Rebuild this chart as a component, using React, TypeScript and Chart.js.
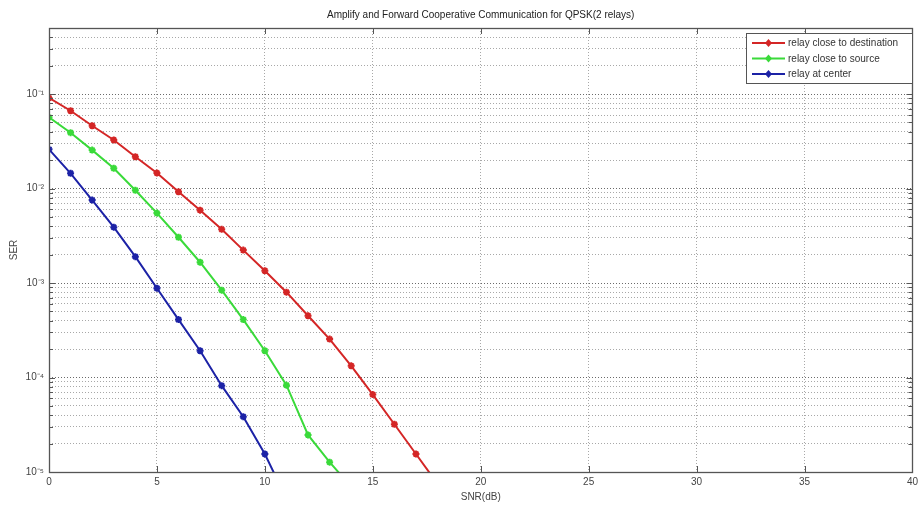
import React, { useEffect, useRef } from "react";
import { Chart, registerables } from "chart.js";

Chart.register(...registerables);

const snrDest = [0, 1, 2, 3, 4, 5, 6, 7, 8, 9, 10, 11, 12, 13, 14, 15, 16, 17, 18];
const serDest = [0.091, 0.0666, 0.0462, 0.0326, 0.0217, 0.0146, 0.00925, 0.0059, 0.0037, 0.00223, 0.00135, 0.0008, 0.00045, 0.000255, 0.000133, 0.000066, 0.000032, 0.0000155, 0.0000075];

const snrSource = [0, 1, 2, 3, 4, 5, 6, 7, 8, 9, 10, 11, 12, 13, 14];
const serSource = [0.0567, 0.039, 0.0255, 0.0164, 0.0096, 0.0055, 0.00305, 0.00166, 0.00084, 0.00041, 0.000192, 0.000083, 0.0000247, 0.0000127, 0.000007];

const snrCenter = [0, 1, 2, 3, 4, 5, 6, 7, 8, 9, 10, 11];
const serCenter = [0.026, 0.0145, 0.00755, 0.0039, 0.0019, 0.00088, 0.00041, 0.000192, 0.000082, 0.0000385, 0.0000155, 0.0000052];

const seriesNames = ["relay close to destination", "relay close to source", "relay at center"];
const seriesColors = ["#d42626", "#3ada3a", "#1c22a6"];

const xTicks = [0, 5, 10, 15, 20, 25, 30, 35, 40];
const yMin = 1e-5;
const yMax = 0.5;

const titleText = "Amplify and Forward Cooperative Communication for QPSK(2 relays)";
const xLabel = "SNR(dB)";
const yLabel = "SER";

const SUP: Record<string, string> = { "-": "\u207B", "0": "\u2070", "1": "\u00B9", "2": "\u00B2", "3": "\u00B3", "4": "\u2074", "5": "\u2075", "6": "\u2076", "7": "\u2077", "8": "\u2078", "9": "\u2079" };

function buildLogTicks(min: number, max: number) {
  const out: number[] = [];
  for (let e = -6; e <= 1; e++) {
    for (let m = 1; m <= 9; m++) {
      const v = parseFloat((m * Math.pow(10, e)).toPrecision(6));
      if (v >= min * 0.9999 && v <= max * 1.0001) out.push(v);
    }
  }
  return out;
}

function isDecade(v: number) {
  const l = Math.log10(v);
  return Math.abs(l - Math.round(l)) < 1e-6;
}

const FONT = "'Liberation Sans', Arial, sans-serif";

export default function App() {
  const ref = useRef<HTMLCanvasElement | null>(null);

  useEffect(() => {
    if (!ref.current) return;
    const mk = (xs: number[], ys: number[]) => xs.map((x, i) => ({ x, y: ys[i] }));
    const datasets = [
      mk(snrDest, serDest),
      mk(snrSource, serSource),
      mk(snrCenter, serCenter),
    ].map((data, i) => ({
      label: seriesNames[i],
      data,
      borderColor: seriesColors[i],
      backgroundColor: seriesColors[i],
      borderWidth: 2,
      pointStyle: "star" as const,
      pointRadius: 3.5,
      pointBorderWidth: 2,
      pointBorderColor: seriesColors[i],
      tension: 0,
      fill: false,
    }));

    const decor = {
      id: "decor",
      afterDraw(chart: any) {
        const ctx = chart.ctx;
        const a = chart.chartArea;
        const xs = chart.scales.x;
        const ys = chart.scales.y;
        ctx.save();
        // inner tick marks
        ctx.strokeStyle = "#555";
        ctx.lineWidth = 1;
        ctx.beginPath();
        for (const t of xTicks) {
          const px = Math.round(xs.getPixelForValue(t)) + 0.5;
          ctx.moveTo(px, a.bottom);
          ctx.lineTo(px, a.bottom - 6);
          ctx.moveTo(px, a.top);
          ctx.lineTo(px, a.top + 6);
        }
        for (const v of buildLogTicks(yMin, yMax)) {
          const py = Math.round(ys.getPixelForValue(v)) + 0.5;
          const len = isDecade(v) ? 6 : 4;
          ctx.moveTo(a.left, py);
          ctx.lineTo(a.left + len, py);
          ctx.moveTo(a.right, py);
          ctx.lineTo(a.right - len, py);
        }
        ctx.stroke();
        // border
        ctx.strokeStyle = "#555";
        ctx.lineWidth = 1.3;
        ctx.strokeRect(Math.round(a.left) + 0.5, Math.round(a.top) + 0.5, Math.round(a.right - a.left), Math.round(a.bottom - a.top));
        // title
        ctx.fillStyle = "#222";
        ctx.font = `10px ${FONT}`;
        ctx.textAlign = "center";
        ctx.textBaseline = "middle";
        ctx.fillText(titleText, (a.left + a.right) / 2, 15);
        // x label
        ctx.fillStyle = "#444";
        ctx.fillText(xLabel, (a.left + a.right) / 2, 497);
        // y label
        ctx.save();
        ctx.translate(14, (a.top + a.bottom) / 2);
        ctx.rotate(-Math.PI / 2);
        ctx.fillText(yLabel, 0, 0);
        ctx.restore();
        // legend
        const lx = 746, ly = 33, lw = 166, lh = 50;
        ctx.fillStyle = "#fff";
        ctx.fillRect(lx, ly, lw, lh);
        ctx.strokeStyle = "#555";
        ctx.lineWidth = 1;
        ctx.strokeRect(lx + 0.5, ly + 0.5, lw, lh);
        seriesNames.forEach((name, i) => {
          const yy = ly + 10 + i * 15.5;
          ctx.strokeStyle = seriesColors[i];
          ctx.lineWidth = 2;
          ctx.beginPath();
          ctx.moveTo(lx + 6, yy);
          ctx.lineTo(lx + 39, yy);
          ctx.stroke();
          ctx.fillStyle = seriesColors[i];
          ctx.beginPath();
          ctx.moveTo(lx + 22.5, yy - 4);
          ctx.lineTo(lx + 26, yy);
          ctx.lineTo(lx + 22.5, yy + 4);
          ctx.lineTo(lx + 19, yy);
          ctx.closePath();
          ctx.fill();
          ctx.fillStyle = "#333";
          ctx.font = `10px ${FONT}`;
          ctx.textAlign = "left";
          ctx.textBaseline = "middle";
          ctx.fillText(name, lx + 42, yy + 0.5);
        });
        ctx.restore();
      },
    };

    const chart = new Chart(ref.current, {
      type: "line",
      data: { datasets },
      plugins: [decor],
      options: {
        animation: false,
        responsive: false,
        maintainAspectRatio: false,
        layout: { padding: { left: 0, right: 5, top: 28, bottom: 0 } },
        plugins: { legend: { display: false }, tooltip: { enabled: false }, title: { display: false } },
        scales: {
          x: {
            type: "linear",
            min: 0,
            max: 40,
            afterBuildTicks: (s: any) => {
              s.ticks = xTicks.map((v) => ({ value: v }));
            },
            afterFit: (s: any) => {
              s.height = 36;
            },
            ticks: {
              color: "#444",
              font: { family: FONT, size: 10 },
              padding: 4,
              maxRotation: 0,
              autoSkip: false,
            },
            grid: {
              drawTicks: false,
              color: (c: any) => (c.tick && (c.tick.value === 0 || c.tick.value === 40) ? "rgba(0,0,0,0)" : "#a8a8a8"),
              lineWidth: 1,
            },
            border: { display: false, dash: [1, 2] },
          },
          y: {
            type: "logarithmic",
            min: yMin,
            max: yMax,
            afterBuildTicks: (s: any) => {
              s.ticks = buildLogTicks(yMin, yMax).map((v) => ({ value: v }));
            },
            afterFit: (s: any) => {
              s.width = 49;
            },
            ticks: {
              color: "#444",
              font: { family: FONT, size: 10 },
              padding: 5,
              autoSkip: false,
              callback: (v: any) => {
                const n = Number(v);
                if (!isDecade(n)) return "";
                const e = String(Math.round(Math.log10(n)));
                return "10" + e.split("").map((ch) => SUP[ch] || ch).join("");
              },
            },
            grid: {
              drawTicks: false,
              color: (c: any) => {
                const v = c.tick ? c.tick.value : 0;
                if (Math.abs(v - yMin) < 1e-9 || Math.abs(v - yMax) < 1e-9) return "rgba(0,0,0,0)";
                return isDecade(v) ? "#6a6a6a" : "#a8a8a8";
              },
              lineWidth: 1,
            },
            border: { display: false, dash: [1, 2] },
          },
        },
      },
    } as any);

    return () => chart.destroy();
  }, []);

  return (
    <div style={{ position: "fixed", left: 0, top: 0, width: 922, height: 508, background: "#fff" }}>
      <canvas ref={ref} width={922} height={508} style={{ width: 922, height: 508, display: "block" }} />
    </div>
  );
}
